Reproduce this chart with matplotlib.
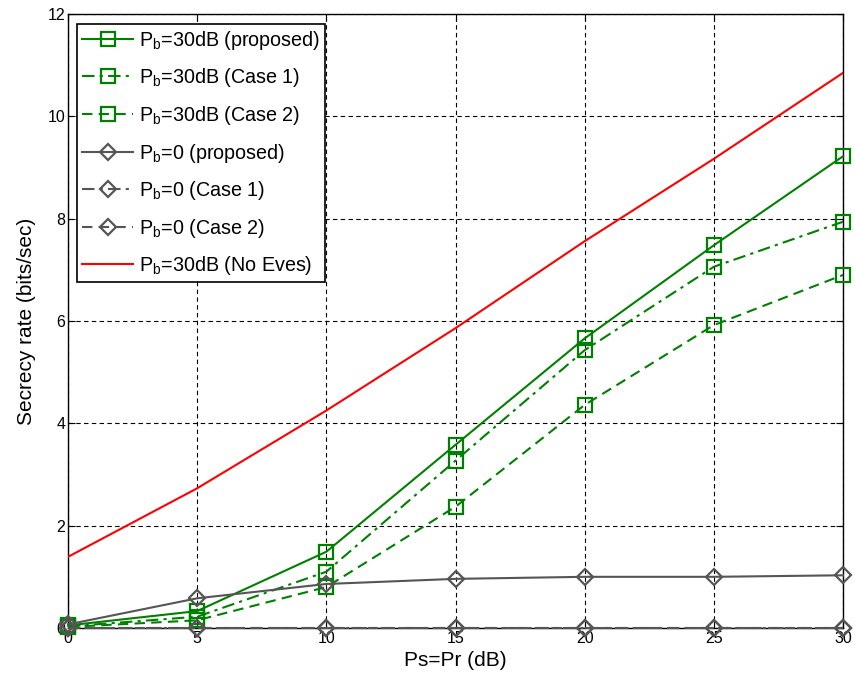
import matplotlib
matplotlib.use("Agg")
import matplotlib.pyplot as plt

plt.rcParams["font.family"] = ["Liberation Sans", "DejaVu Sans"]
plt.rcParams["mathtext.fontset"] = "custom"
plt.rcParams["mathtext.rm"] = "Liberation Sans"
plt.rcParams["mathtext.it"] = "Liberation Sans:italic"

# transmit power (dB)
ps_db = [0, 5, 10, 15, 20, 25, 30]

# secrecy rate (bits/sec)
pb30_proposed = [0.05, 0.33, 1.49, 3.58, 5.66, 7.48, 9.22]
pb30_case1 = [0.03, 0.22, 1.10, 3.27, 5.43, 7.06, 7.94]
pb30_case2 = [0.02, 0.15, 0.80, 2.37, 4.36, 5.92, 6.90]
pb0_proposed = [0.07, 0.58, 0.86, 0.96, 1.00, 1.00, 1.03]
pb0_case1 = [0.0, 0.0, 0.0, 0.0, 0.0, 0.0, 0.0]
pb0_case2 = [0.0, 0.0, 0.0, 0.0, 0.0, 0.0, 0.0]
pb30_no_eves = [1.39, 2.73, 4.25, 5.86, 7.56, 9.17, 10.85]

GREEN = "#008000"
GRAY = "#555555"
RED = "#ff0000"

fig = plt.figure(figsize=(8.55, 6.84), dpi=100)
ax = fig.add_axes([0.0795, 0.0819, 0.9065, 0.8976])

sq = dict(marker="s", markersize=10, markeredgewidth=1.6, markerfacecolor="none",
          clip_on=False, zorder=3)
dm = dict(marker="D", markersize=8, markeredgewidth=1.6, markerfacecolor="none",
          clip_on=False, zorder=3)
dashdot = (0, (6, 2.5, 1.5, 2.5))
dashed = (0, (5, 3))

ax.plot(ps_db, pb30_proposed, "-", color=GREEN, lw=1.5,
        label=r"P$_\mathrm{b}$=30dB (proposed)", **sq)
ax.plot(ps_db, pb30_case1, linestyle=dashdot, color=GREEN, lw=1.5,
        label=r"P$_\mathrm{b}$=30dB (Case 1)", **sq)
ax.plot(ps_db, pb30_case2, linestyle=dashed, color=GREEN, lw=1.5,
        label=r"P$_\mathrm{b}$=30dB (Case 2)", **sq)
ax.plot(ps_db, pb0_proposed, "-", color=GRAY, lw=1.5,
        label=r"P$_\mathrm{b}$=0 (proposed)", **dm)
ax.plot(ps_db, pb0_case1, linestyle=dashdot, color=GRAY, lw=1.5,
        label=r"P$_\mathrm{b}$=0 (Case 1)", **dm)
ax.plot(ps_db, pb0_case2, linestyle=dashed, color=GRAY, lw=1.5,
        label=r"P$_\mathrm{b}$=0 (Case 2)", **dm)
ax.plot(ps_db, pb30_no_eves, "-", color=RED, lw=1.5,
        label=r"P$_\mathrm{b}$=30dB (No Eves)", zorder=3)

ax.set_xlim(0, 30)
ax.set_ylim(0, 12)
ax.set_xticks(range(0, 31, 5))
ax.set_yticks(range(0, 13, 2))
ax.grid(True, color="black", linestyle=(0, (4, 3)), linewidth=0.8)
ax.tick_params(direction="in", top=True, right=True, labelsize=11.5, pad=2, length=5)
for s in ax.spines.values():
    s.set_linewidth(1.0)

ax.set_xlabel("Ps=Pr (dB)", fontsize=15, labelpad=4)
ax.set_ylabel("Secrecy rate (bits/sec)", fontsize=15, labelpad=8)

leg = ax.legend(loc="upper left", fontsize=14.2, handlelength=2.6, labelspacing=0.74,
                borderpad=0.25, handletextpad=0.3, borderaxespad=0, fancybox=False,
                framealpha=1, edgecolor="black", bbox_to_anchor=(0.0116, 0.984))
leg.get_frame().set_linewidth(1.2)

fig.savefig("out.png", dpi=100)
